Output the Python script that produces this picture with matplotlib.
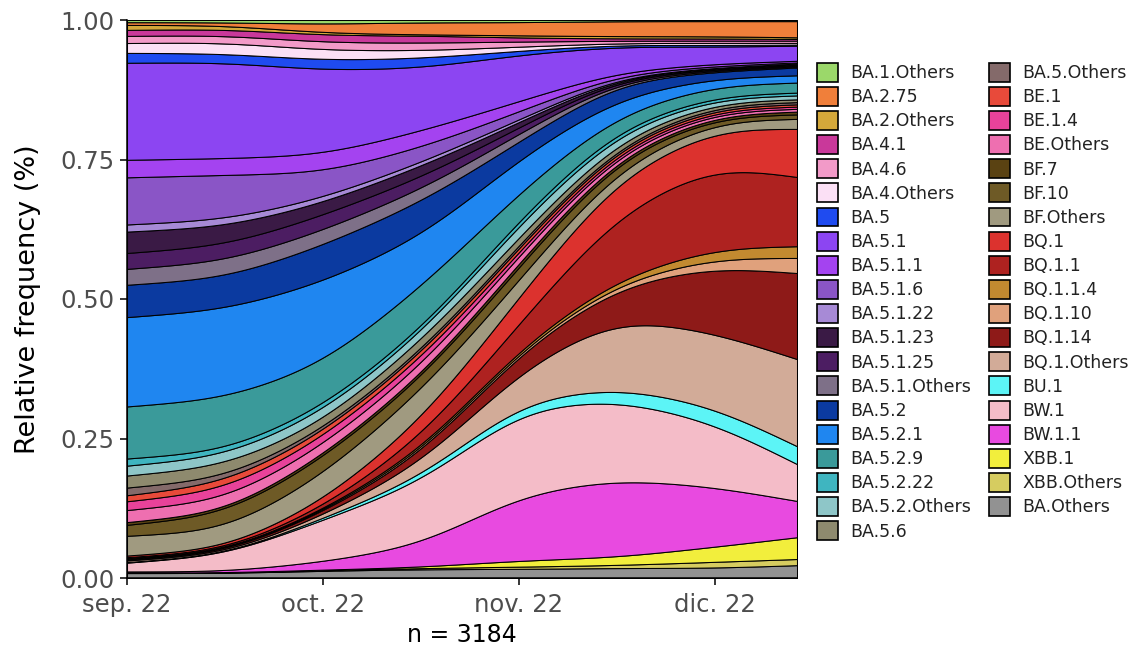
import numpy as np
import matplotlib.pyplot as plt
from matplotlib.patches import Patch

# lineages, in legend order (stacked from the bottom in reverse order)
lineages = ["BA.1.Others", "BA.2.75", "BA.2.Others", "BA.4.1", "BA.4.6", "BA.4.Others",
            "BA.5", "BA.5.1", "BA.5.1.1", "BA.5.1.6", "BA.5.1.22", "BA.5.1.23", "BA.5.1.25",
            "BA.5.1.Others", "BA.5.2", "BA.5.2.1", "BA.5.2.9", "BA.5.2.22", "BA.5.2.Others",
            "BA.5.6", "BA.5.Others", "BE.1", "BE.1.4", "BE.Others", "BF.7", "BF.10",
            "BF.Others", "BQ.1", "BQ.1.1", "BQ.1.1.4", "BQ.1.10", "BQ.1.14", "BQ.1.Others",
            "BU.1", "BW.1", "BW.1.1", "XBB.1", "XBB.Others", "BA.Others"]

colors = ["#9BD86A", "#F07F3A", "#D4A83A", "#C9389A", "#F29AC8", "#FBE0F5",
          "#1F4BF0", "#8C45F2", "#A443F0", "#8A55C6", "#A78AD6", "#3A1A45", "#4C1D62",
          "#7E7088", "#0B3AA0", "#1F86F0", "#3A9A9A", "#3FB5C0", "#8EC6C8",
          "#8E8A6E", "#846A6A", "#E84A3A", "#E8429A", "#EE6FB0", "#5A4212", "#6E5A26",
          "#A09A80", "#DC322E", "#AE2220", "#C28A30", "#E0A17C", "#8E1A18", "#D2AB98",
          "#5CF4F6", "#F4BCC8", "#E84AE0", "#F2EE3C", "#D6CC60", "#929292"]

# sampling positions in months since sep. 22
sample_months = [0, 0.5, 1, 1.5, 2, 2.5, 3, 3.42]

# relative frequency (%) of each lineage at each sampling position
sep_01 = [0.4, 0.5, 0.9, 1.1, 1.3, 1.8, 1.8, 17.7, 3.2, 8.6, 1.3, 3.9, 2.9, 2.9, 5.9, 16.3,
          9.5, 1.3, 1.8, 2.2, 1.4, 1.1, 1.6, 2.2, 0.5, 2.0, 3.6, 0.3, 0.2, 0.1, 0.1, 0.2,
          0.3, 0.1, 1.6, 0.2, 0.05, 0.05, 0.9]
sep_15 = [0.4, 0.5, 0.7, 1.1, 1.3, 2.0, 1.6, 17.4, 3.0, 8.1, 1.3, 3.4, 2.9, 3.0, 5.7, 16.1,
          9.5, 0.9, 1.8, 2.2, 0.9, 1.3, 1.8, 2.2, 0.4, 2.9, 3.2, 0.3, 0.2, 0.1, 0.1, 0.2,
          0.2, 0.1, 2.9, 0.2, 0.05, 0.05, 0.9]
oct_01 = [0.7, 1.6, 0.4, 1.3, 1.4, 1.8, 1.8, 15.2, 3.2, 4.5, 0.9, 2.2, 2.7, 2.7, 6.6, 14.7,
          7.7, 0.9, 1.8, 1.4, 0.5, 0.9, 1.4, 1.8, 0.5, 3.0, 4.7, 1.1, 0.5, 0.2, 0.2, 0.5,
          0.5, 0.3, 7.5, 1.4, 0.1, 0.1, 1.3]
oct_15 = [0.4, 2.2, 0.2, 1.3, 1.4, 1.4, 1.8, 11.3, 3.0, 2.7, 0.7, 2.0, 2.2, 2.3, 6.3, 9.0,
          7.7, 0.7, 1.4, 1.8, 0.5, 0.9, 1.3, 1.8, 0.5, 2.2, 5.4, 3.0, 2.3, 0.4, 0.4, 1.6,
          2.5, 0.9, 11.3, 3.9, 0.2, 0.2, 1.6]
nov_01 = [0.4, 2.3, 0.4, 0.7, 0.9, 0.7, 0.7, 8.2, 1.8, 1.4, 0.5, 0.9, 1.1, 1.4, 3.0, 5.9,
          4.8, 0.9, 2.2, 1.4, 0.5, 0.7, 0.7, 1.3, 0.7, 2.3, 3.0, 4.7, 4.3, 0.4, 0.4, 3.2,
          5.4, 1.4, 15.1, 11.6, 1.1, 0.4, 1.6]
nov_15 = [0.2, 2.7, 0.4, 0.4, 0.4, 0.3, 0.3, 4.5, 0.5, 0.4, 0.2, 0.2, 0.3, 0.3, 2.7, 2.9,
          2.5, 0.7, 1.3, 0.9, 0.4, 0.5, 0.5, 0.7, 0.5, 1.6, 1.8, 6.5, 11.5, 0.7, 0.7, 5.6,
          12.4, 2.2, 14.3, 14.0, 1.4, 0.5, 1.8]
dec_01 = [0.2, 2.7, 0.4, 0.4, 0.4, 0.4, 0.3, 3.0, 0.4, 0.3, 0.1, 0.2, 0.2, 0.2, 1.1, 1.3,
          1.8, 0.5, 0.7, 0.5, 0.4, 0.4, 0.4, 0.5, 0.4, 0.7, 1.4, 6.6, 14.9, 1.8, 1.6, 11.8,
          13.3, 2.9, 11.5, 10.8, 2.7, 1.1, 1.8]
dec_13 = [0.2, 2.9, 0.3, 0.3, 0.4, 0.3, 0.2, 2.7, 0.3, 0.2, 0.1, 0.2, 0.2, 0.2, 1.4, 1.3,
          1.8, 0.5, 0.7, 0.5, 0.4, 0.4, 0.4, 0.5, 0.5, 0.8, 1.8, 8.6, 12.4, 2.1, 2.7, 15.4,
          15.6, 3.2, 6.6, 6.5, 3.9, 1.1, 2.3]

month_ticks = [0, 1, 2, 3]
month_labels = ["sep. 22", "oct. 22", "nov. 22", "dic. 22"]


def stream(xk, yk, xs, bw=0.2):
    # gaussian-smoothed line through the samples, like a stream plot
    y = np.interp(xs, xk, yk)
    step = xs[1] - xs[0]
    half = int(3 * bw / step)
    k = np.exp(-0.5 * (np.arange(-half, half + 1) * step / bw) ** 2)
    k /= k.sum()
    left = 2 * y[0] - y[1:half + 1][::-1]
    right = 2 * y[-1] - y[-half - 1:-1][::-1]
    return np.convolve(np.concatenate([left, y, right]), k, mode="valid")


table = np.array([sep_01, sep_15, oct_01, oct_15, nov_01, nov_15, dec_01, dec_13]).T
xs = np.linspace(sample_months[0], sample_months[-1], 500)
curves = np.array([np.clip(stream(sample_months, row, xs), 0, None) for row in table])
curves = curves / curves.sum(axis=0)

fig = plt.figure(figsize=(11.36, 6.47), dpi=100)
ax = fig.add_axes([127 / 1136, 1 - 578 / 647, 670 / 1136, 558 / 647])

ax.stackplot(xs, curves[::-1], colors=colors[::-1], edgecolor="black", linewidth=0.75)

ax.set_xlim(sample_months[0], sample_months[-1])
ax.set_ylim(0, 1)
ax.set_xticks(month_ticks)
ax.set_xticklabels(month_labels)
ax.set_yticks([0, 0.25, 0.5, 0.75, 1.0])
ax.set_yticklabels(["0.00", "0.25", "0.50", "0.75", "1.00"])
ax.tick_params(labelsize=17.5, colors="black", labelcolor="#4D4D4D", length=5, width=1.1,
               pad=4)
ax.tick_params(axis="x", pad=6)
for side in ["top", "right"]:
    ax.spines[side].set_visible(False)
ax.spines["left"].set_linewidth(1.1)
ax.spines["bottom"].set_linewidth(1.1)
ax.set_ylabel("Relative frequency (%)", fontsize=19.5, labelpad=14)
ax.set_xlabel("n = 3184", fontsize=17, labelpad=4)

handles = [Patch(facecolor=c, edgecolor="black", linewidth=1.2) for c in colors]
fig.legend(handles, lineages, ncol=2, loc="upper left",
           bbox_to_anchor=(808 / 1136, 1 - 54 / 647), frameon=False,
           fontsize=12.5, handlelength=1.2, handleheight=1.3, labelspacing=0.28,
           columnspacing=1.0, handletextpad=0.75, borderpad=0, labelcolor="#222222")

fig.savefig("out.png", dpi=100)
